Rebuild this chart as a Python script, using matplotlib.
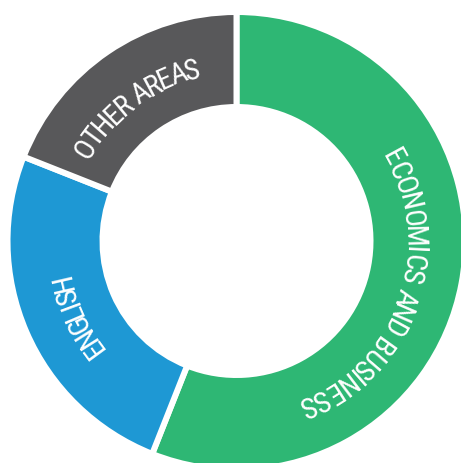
import numpy as np
import matplotlib
matplotlib.use("Agg")
import matplotlib.pyplot as plt
from matplotlib import font_manager as fm
from matplotlib.font_manager import FontProperties

# data, clockwise from 12 o'clock
categories = ["ECONOMICS AND BUSINESS", "ENGLISH", "OTHER AREAS"]
shares = [56, 25, 19]
colors = ["#2EB774", "#1E98D4", "#58585A"]

# where each label's first and last letter sit (degrees clockwise from top)
label_spans = [(61.6, 156.9), (233.7, 257.0), (301.7, 345.6)]

W, H = 461, 464
CX, CY = 236.5, H - 242
R_OUT, R_IN = 226, 137
GAP_PX = 6
R_TEXT = 179
FONT_SIZE = 21

installed = {f.name for f in fm.fontManager.ttflist}
family = next((n for n in ["Roboto Condensed", "Liberation Sans Narrow", "Barlow Condensed",
                           "Archivo Narrow", "DejaVu Sans"] if n in installed), "DejaVu Sans")
FONT = FontProperties(family=family, size=FONT_SIZE)


def advances(renderer, text):
    def w(s):
        return renderer.get_text_width_height_descent(s, FONT, ismath=False)[0]
    base = w("HH")
    return np.array([w("H" + ch + "H") - base for ch in text])


def curved_label(ax, renderer, text, a0, a1, radius):
    adv = advances(renderer, text)
    centers = np.concatenate([[0], np.cumsum(adv)[:-1]]) + adv / 2
    scale = (a1 - a0) / (centers[-1] - centers[0])
    cap = 0.71 * FONT_SIZE * 100 / 72
    rb = radius - cap / 2
    for ch, c in zip(text, centers):
        if ch == " ":
            continue
        th = np.deg2rad(a0 + (c - centers[0]) * scale)
        ax.text(CX + rb * np.sin(th), CY + rb * np.cos(th), ch,
                color="white", fontproperties=FONT,
                rotation=-np.rad2deg(th), rotation_mode="anchor",
                ha="center", va="baseline")


def main():
    fig = plt.figure(figsize=(W / 100, H / 100), dpi=100)
    ax = fig.add_axes([0, 0, 1, 1])

    lw = GAP_PX * 72 / 100
    ax.pie(shares, colors=colors, radius=R_OUT + GAP_PX / 2, center=(CX, CY),
           startangle=90, counterclock=False,
           wedgeprops=dict(width=R_OUT - R_IN + GAP_PX, edgecolor="white", linewidth=lw))

    ax.set_xlim(0, W)
    ax.set_ylim(0, H)
    ax.set_aspect("equal")
    ax.axis("off")

    renderer = fig.canvas.get_renderer()
    for name, (a0, a1) in zip(categories, label_spans):
        curved_label(ax, renderer, name, a0, a1, R_TEXT)

    fig.savefig("out.png", dpi=100)
    plt.close(fig)


if __name__ == "__main__":
    main()
